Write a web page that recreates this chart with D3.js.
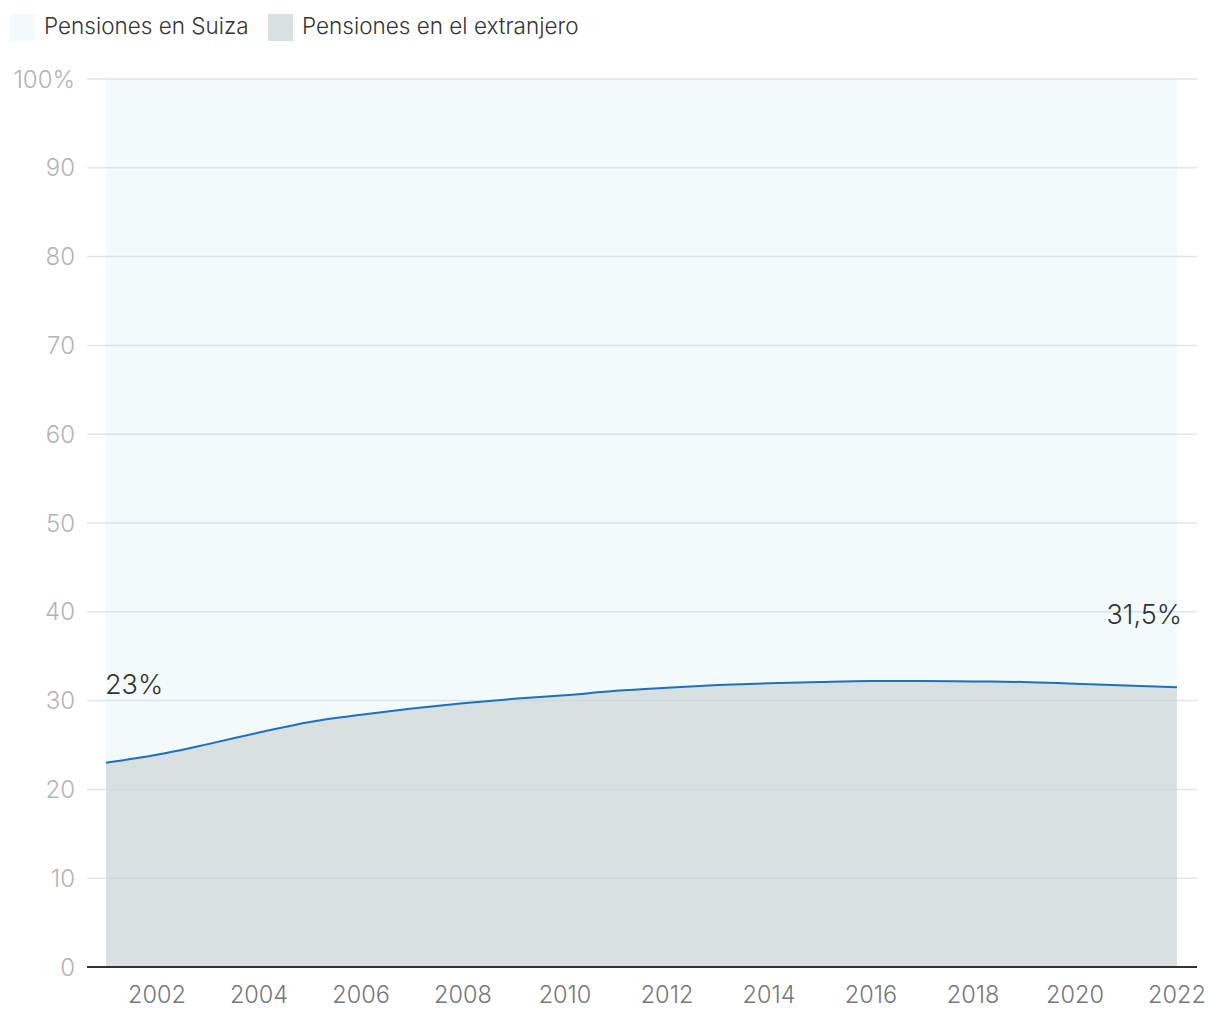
<!DOCTYPE html>
<html><head><meta charset="utf-8">
<script src="https://cdn.jsdelivr.net/npm/d3@7"></script>
<style>body{margin:0;background:#fff;font-family:Inter,sans-serif;}</style>
</head><body><svg id="c" width="1220" height="1020"></svg>
<script>
const years = [2001,2002,2003,2004,2005,2006,2007,2008,2009,2010,2011,2012,2013,2014,2015,2016,2017,2018,2019,2020,2021,2022];
const abroad = [23.0,23.9,25.1,26.4,27.6,28.4,29.1,29.7,30.2,30.6,31.1,31.45,31.75,31.95,32.1,32.2,32.2,32.15,32.1,31.9,31.7,31.5];
const yTicks = [0,10,20,30,40,50,60,70,80,90,100];
const xTicks = [2002,2004,2006,2008,2010,2012,2014,2016,2018,2020,2022];
const legendLabels = ["Pensiones en Suiza","Pensiones en el extranjero"];
const colors = ["#f2fafc","#d8e0e2"];

const svg = d3.select("#c");
const x = d3.scaleLinear().domain([2001,2022]).range([106,1177]);
const y = d3.scaleLinear().domain([0,100]).range([967,79]);

svg.append("path").datum(years).attr("fill",colors[0])
  .attr("d", d3.area().x(d=>x(d)).y0(y(100)).y1((d,i)=>y(abroad[i])).curve(d3.curveMonotoneX));
svg.append("path").datum(years).attr("fill",colors[1])
  .attr("d", d3.area().x(d=>x(d)).y0(y(0)).y1((d,i)=>y(abroad[i])).curve(d3.curveMonotoneX));

svg.append("g").selectAll("line").data(yTicks.filter(d=>d>0)).join("line")
  .attr("x1",87).attr("x2",1197).attr("y1",d=>y(d)).attr("y2",d=>y(d))
  .attr("stroke","#c9d2d6").attr("stroke-opacity",0.55).attr("stroke-width",1.5);

svg.append("path").datum(years).attr("fill","none").attr("stroke","#1f6fbf").attr("stroke-width",2)
  .attr("d", d3.line().x(d=>x(d)).y((d,i)=>y(abroad[i])).curve(d3.curveMonotoneX));

svg.append("line").attr("x1",87).attr("x2",1197).attr("y1",y(0)).attr("y2",y(0)).attr("stroke","#333").attr("stroke-width",2);

svg.append("g").selectAll("text").data(yTicks).join("text")
  .attr("x",75).attr("y",d=>y(d)).attr("dy","0.36em").attr("text-anchor","end")
  .attr("font-size",24).attr("fill","#b3b3b3").attr("font-weight",300)
  .text(d=>d===100?"100%":d);
svg.append("g").selectAll("text").data(xTicks).join("text")
  .attr("x",d=>x(d)).attr("y",1003).attr("text-anchor","middle")
  .attr("font-size",23.5).attr("fill","#777").attr("font-weight",300)
  .text(d=>d);

svg.append("text").attr("x",x(2001)-1).attr("y",694).attr("font-size",27).attr("fill","#333").attr("font-weight",300).text("23%");
svg.append("text").attr("x",x(2022)+5).attr("y",624).attr("text-anchor","end").attr("font-size",27).attr("fill","#333").attr("font-weight",300).text("31,5%");

const lg = svg.append("g");
const lx = [10,268];
legendLabels.forEach((t,i)=>{
  lg.append("rect").attr("x",lx[i]).attr("y",14).attr("width",25).attr("height",27).attr("fill",colors[i]);
  lg.append("text").attr("x",lx[i]+34).attr("y",34).attr("font-size",22.5).attr("fill","#333").attr("font-weight",300).text(t);
});
</script></body></html>
